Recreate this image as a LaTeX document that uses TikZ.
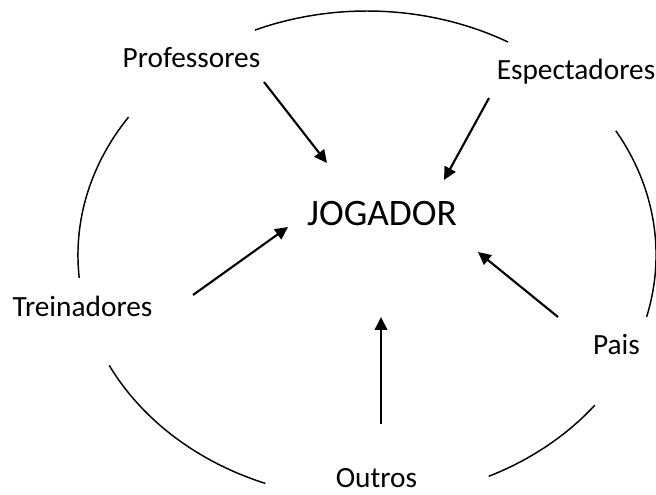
\documentclass[tikz,border=0pt]{standalone}
\usepackage{fontspec}
\setmainfont{Carlito}
\usetikzlibrary{arrows.meta}
\begin{document}
\begin{tikzpicture}[x=0.375pt,y=0.375pt,
    lbl/.style={inner sep=0pt,anchor=base,font=\fontsize{11}{13}\selectfont},
    infl/.style={line width=0.8pt,-{Triangle[length=4.8pt,width=4.6pt]}}]
      \useasboundingbox (0,0) rectangle (656,-495);
      \coordinate (c) at (367,-255);
      \foreach \a/\b in {60.8/112.8,145.6/185.4,206.9/249.4,294.9/322,345.3/390.6}
        \draw[line width=0.55pt] ([shift={(\a:108.4pt and 91.5pt)}]c)
          arc[start angle=\a,end angle=\b,x radius=108.4pt,y radius=91.5pt];
      \draw
        (382,-226) node[lbl,font=\fontsize{14}{17}\selectfont] (jog){JOGADOR}
        (191.5,-68) node[lbl] (prof){Professores}
        (576,-80) node[lbl] (espec){Espectadores}
        (82.5,-317) node[lbl] (trein){Treinadores}
        (616.5,-354) node[lbl] (pais){Pais}
        (376.5,-487) node[lbl] (outros){Outros};
      \coordinate (prof0) at (264,-82);
      \coordinate (prof1) at (327,-163);
      \coordinate (espec0) at (489,-98);
      \coordinate (espec1) at (444,-180);
      \coordinate (trein0) at (193,-295);
      \coordinate (trein1) at (288,-227);
      \coordinate (pais0) at (558,-317);
      \coordinate (pais1) at (478,-252);
      \coordinate (outros0) at (381,-424);
      \coordinate (outros1) at (381,-317);
      \begin{scope}[infl]
        \draw (prof0) to (prof1);
        \draw (espec0) to (espec1);
        \draw (trein0) to (trein1);
        \draw (pais0) to (pais1);
        \draw (outros0) to (outros1);
      \end{scope}
    \end{tikzpicture}
\end{document}
